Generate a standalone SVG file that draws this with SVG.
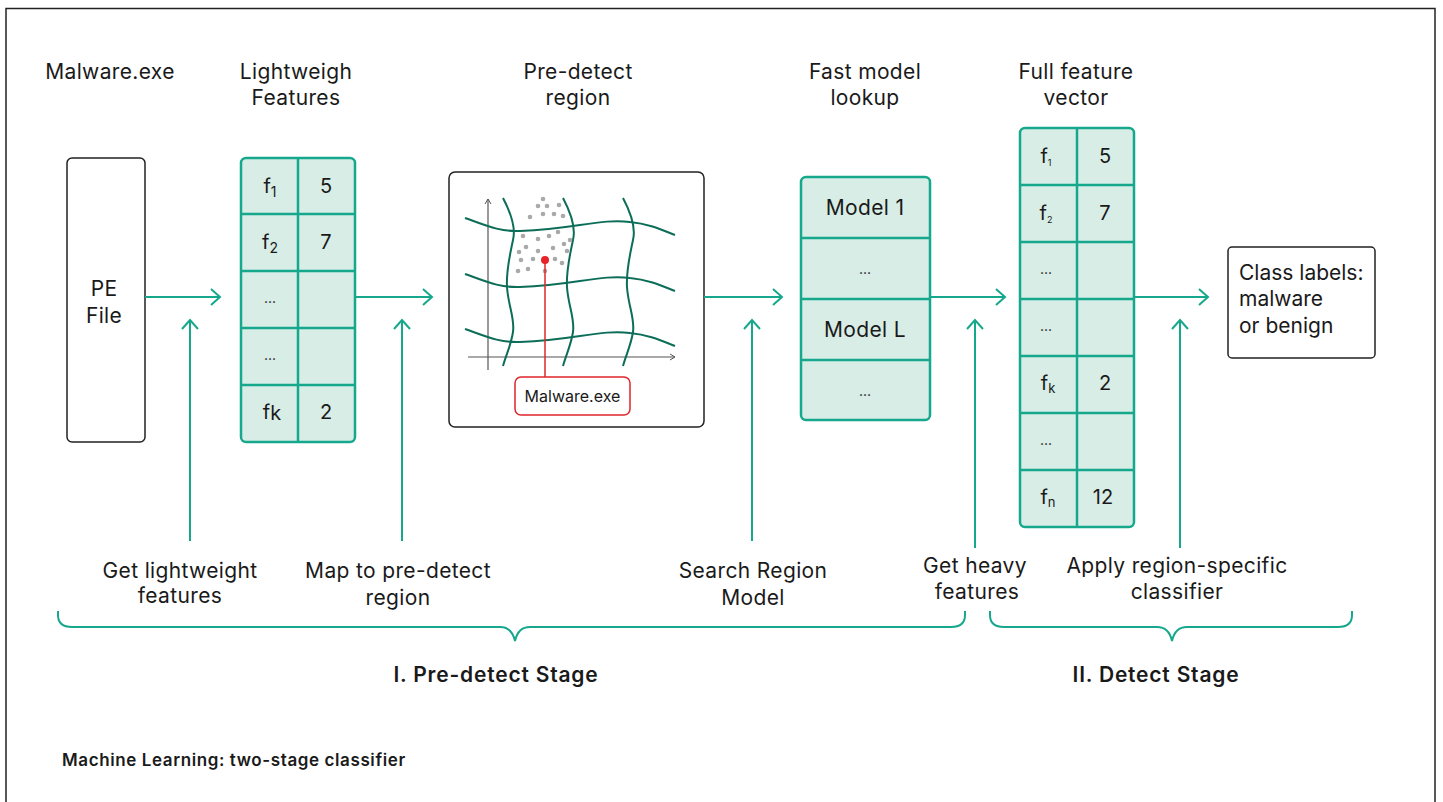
<svg xmlns="http://www.w3.org/2000/svg" width="1443" height="802" viewBox="0 0 1443 802">
<defs>
<style>
text{font-family:Inter,"Liberation Sans",sans-serif;fill:#1a1a1a}
.t{font-size:21px;letter-spacing:0.35px;text-anchor:middle}
.c{font-size:20px;text-anchor:middle}
.d{font-size:14px;text-anchor:middle}
.b{font-weight:600;letter-spacing:0.8px}
.cell{fill:#d7ede6;stroke:#16a88c;stroke-width:2.5}
.grid{stroke:#16a88c;stroke-width:2.5}
.con{stroke:#16a88c;stroke-width:2;fill:none}
.box{fill:#fff;stroke:#222;stroke-width:1.5}
.wave{stroke:#0c6e58;stroke-width:2;fill:none}
.dot{fill:#a9a9a9}
</style>
<marker id="ah" markerUnits="userSpaceOnUse" markerWidth="14" markerHeight="20" refX="10" refY="9" orient="auto">
<path d="M1,1 L10,9 L1,17" fill="none" stroke="#16a88c" stroke-width="2"/>
</marker>
<marker id="ax" markerUnits="userSpaceOnUse" markerWidth="10" markerHeight="10" refX="6" refY="4" orient="auto">
<path d="M1,1 L6,4 L1,7" fill="none" stroke="#555" stroke-width="1"/>
</marker>
</defs>
<rect width="1443" height="802" fill="#fff"/>
<rect x="6" y="8.5" width="1429" height="800" fill="none" stroke="#222" stroke-width="1.5"/>

<g id="headers">
<text class="t" x="110" y="79">Malware.exe</text>
<text class="t" x="296" y="79">Lightweigh</text>
<text class="t" x="296" y="105">Features</text>
<text class="t" x="578" y="79">Pre-detect</text>
<text class="t" x="578" y="105">region</text>
<text class="t" x="865" y="79">Fast model</text>
<text class="t" x="865" y="105">lookup</text>
<text class="t" x="1076" y="79">Full feature</text>
<text class="t" x="1076" y="105">vector</text>
</g>

<g id="pe-file">
<rect class="box" x="67" y="158" width="78" height="284" rx="5"/>
<text class="t" x="104" y="296">PE</text>
<text class="t" x="104" y="323">File</text>
</g>

<g id="lightweight-features">
<rect class="cell" x="241" y="158" width="114" height="284" rx="5"/>
<path class="grid" d="M298,158V442M241,214H355M241,271H355M241,328H355M241,385H355"/>
<text class="c" x="270" y="193">f<tspan font-size="14" dy="4">1</tspan></text>
<text class="c" x="326" y="193">5</text>
<text class="c" x="270" y="249">f<tspan font-size="14" dy="4">2</tspan></text>
<text class="c" x="326" y="249">7</text>
<text class="d" x="270" y="303">...</text>
<text class="d" x="270" y="360">...</text>
<text class="c" x="272" y="419">f<tspan font-size="20" dy="1">k</tspan></text>
<text class="c" x="326" y="419">2</text>
</g>

<g id="pre-detect-region">
<rect class="box" x="449" y="172" width="255" height="255" rx="6"/>
<path d="M488,370V199" stroke="#555" stroke-width="1.2" fill="none" marker-end="url(#ax)"/>
<path d="M468,357H675" stroke="#555" stroke-width="1.2" fill="none" marker-end="url(#ax)"/>
<g id="grid-h">
<path class="wave" d="M465,218 C485,225 500,232 520,231 C545,230 560,228 580,225 C600,222 615,220 630,222 C650,224 662,230 675,235"/>
<path class="wave" transform="translate(0,56)" d="M465,218 C485,225 500,232 520,231 C545,230 560,228 580,225 C600,222 615,220 630,222 C650,224 662,230 675,235"/>
<path class="wave" transform="translate(0,111)" d="M465,218 C485,225 500,232 520,231 C545,230 560,228 580,225 C600,222 615,220 630,222 C650,224 662,230 675,235"/>
</g>
<g id="grid-v">
<path class="wave" d="M503,198 C512,215 516,228 513,240 C510,255 506,270 507,287 C508,305 515,318 513,332 C511,345 506,355 503,366"/>
<path class="wave" transform="translate(60,0)" d="M503,198 C512,215 516,228 513,240 C510,255 506,270 507,287 C508,305 515,318 513,332 C511,345 506,355 503,366"/>
<path class="wave" transform="translate(120,0)" d="M503,198 C512,215 516,228 513,240 C510,255 506,270 507,287 C508,305 515,318 513,332 C511,345 506,355 503,366"/>
</g>
<g id="dots">
<circle class="dot" cx="543" cy="199" r="2.3"/><circle class="dot" cx="538" cy="206" r="2.3"/><circle class="dot" cx="547" cy="206" r="2.3"/><circle class="dot" cx="559" cy="205" r="2.3"/>
<circle class="dot" cx="530" cy="217" r="2.3"/><circle class="dot" cx="543" cy="214" r="2.3"/><circle class="dot" cx="554" cy="214" r="2.3"/><circle class="dot" cx="563" cy="216" r="2.3"/>
<circle class="dot" cx="523" cy="236" r="2.3"/><circle class="dot" cx="538" cy="239" r="2.3"/><circle class="dot" cx="549" cy="236" r="2.3"/><circle class="dot" cx="558" cy="232" r="2.3"/>
<circle class="dot" cx="570" cy="240" r="2.3"/><circle class="dot" cx="564" cy="244" r="2.3"/><circle class="dot" cx="526" cy="247" r="2.3"/><circle class="dot" cx="519" cy="252" r="2.3"/>
<circle class="dot" cx="538" cy="251" r="2.3"/><circle class="dot" cx="553" cy="248" r="2.3"/><circle class="dot" cx="567" cy="251" r="2.3"/><circle class="dot" cx="521" cy="260" r="2.3"/>
<circle class="dot" cx="533" cy="259" r="2.3"/><circle class="dot" cx="555" cy="259" r="2.3"/><circle class="dot" cx="562" cy="263" r="2.3"/><circle class="dot" cx="518" cy="271" r="2.3"/>
<circle class="dot" cx="528" cy="269" r="2.3"/><circle class="dot" cx="545" cy="271" r="2.3"/>
</g>
<path d="M545,260V377" stroke="#e0262b" stroke-width="1.5"/>
<circle cx="545" cy="260" r="4" fill="#e8232a"/>
<rect x="515" y="377" width="115" height="38" rx="6" fill="#fff" stroke="#e0262b" stroke-width="1.5"/>
<text x="572.5" y="402" font-size="16" text-anchor="middle">Malware.exe</text>
</g>

<g id="fast-model-lookup">
<rect class="cell" x="801" y="177" width="129" height="243" rx="5"/>
<path class="grid" d="M801,238H930M801,299H930M801,360H930"/>
<text class="t" x="865" y="215">Model 1</text>
<text class="d" x="865" y="274">...</text>
<text class="t" x="865" y="337">Model L</text>
<text class="d" x="865" y="396">...</text>
</g>

<g id="full-feature-vector">
<rect class="cell" x="1020" y="128" width="114" height="399" rx="5"/>
<path class="grid" d="M1077,128V527M1020,185H1134M1020,242H1134M1020,299H1134M1020,356H1134M1020,413H1134M1020,470H1134"/>
<text class="c" x="1046" y="163">f<tspan font-size="9" dy="3">1</tspan></text>
<text class="c" x="1105" y="163">5</text>
<text class="c" x="1046" y="220">f<tspan font-size="9" dy="3">2</tspan></text>
<text class="c" x="1105" y="220">7</text>
<text class="d" x="1046" y="274">...</text>
<text class="d" x="1046" y="331">...</text>
<text class="c" x="1048" y="390">f<tspan font-size="13" dy="3">k</tspan></text>
<text class="c" x="1105" y="390">2</text>
<text class="d" x="1046" y="445">...</text>
<text class="c" x="1048" y="504">f<tspan font-size="13" dy="3">n</tspan></text>
<text class="c" x="1103" y="504">12</text>
</g>

<g id="class-labels">
<rect class="box" x="1228" y="247" width="147" height="111" rx="4"/>
<text x="1239" y="280" font-size="21">Class labels:</text>
<text x="1239" y="306" font-size="21">malware</text>
<text x="1239" y="333" font-size="21">or benign</text>
</g>

<g id="connectors">
<path class="con" d="M145,297H220" marker-end="url(#ah)"/>
<path class="con" d="M355,297H432" marker-end="url(#ah)"/>
<path class="con" d="M704,297H782" marker-end="url(#ah)"/>
<path class="con" d="M930,297H1005" marker-end="url(#ah)"/>
<path class="con" d="M1134,297H1208" marker-end="url(#ah)"/>
<path class="con" d="M190,541V320" marker-end="url(#ah)"/>
<path class="con" d="M402,541V320" marker-end="url(#ah)"/>
<path class="con" d="M752,541V320" marker-end="url(#ah)"/>
<path class="con" d="M975,548V320" marker-end="url(#ah)"/>
<path class="con" d="M1180,548V320" marker-end="url(#ah)"/>
</g>

<g id="step-labels">
<text class="t" x="180" y="578">Get lightweight</text>
<text class="t" x="180" y="603">features</text>
<text class="t" x="398" y="578">Map to pre-detect</text>
<text class="t" x="398" y="605">region</text>
<text class="t" x="753" y="578">Search Region</text>
<text class="t" x="753" y="605">Model</text>
<text class="t" x="975" y="573">Get heavy</text>
<text class="t" x="977" y="599">features</text>
<text class="t" x="1177" y="573">Apply region-specific</text>
<text class="t" x="1177" y="599">classifier</text>
</g>

<g id="braces">
<path class="con" d="M58,611 V615 Q58,627 72,627 H500 Q512,627 515,641 Q518,627 530,627 H951 Q965,627 965,615 V611"/>
<path class="con" d="M990,611 V615 Q990,627 1004,627 H1157 Q1169,627 1172,641 Q1175,627 1187,627 H1338 Q1352,627 1352,615 V611"/>
</g>

<g id="stage-labels">
<text class="t b" x="496" y="682">I. Pre-detect Stage</text>
<text class="t b" x="1156" y="682">II. Detect Stage</text>
</g>

<text x="62" y="766" font-size="17" font-weight="600" letter-spacing="0.6">Machine Learning: two-stage classifier</text>
</svg>
